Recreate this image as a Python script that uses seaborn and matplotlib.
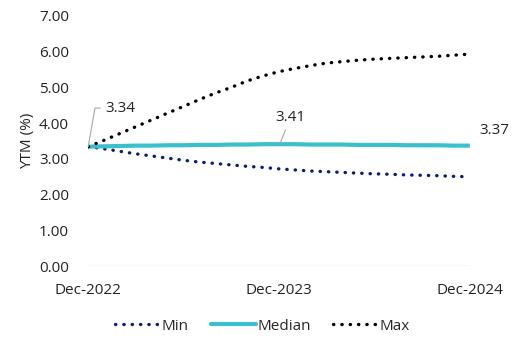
import matplotlib
matplotlib.use("Agg")
import matplotlib.pyplot as plt
import seaborn as sns
import pandas as pd
from matplotlib.lines import Line2D

months = list(range(25))
tick_positions = [0, 12, 24]
tick_labels = ["Dec-2022", "Dec-2023", "Dec-2024"]

min_vals = [3.34, 3.28, 3.21, 3.14, 3.08, 3.02, 2.96, 2.91, 2.87, 2.83, 2.79, 2.76,
            2.72, 2.69, 2.66, 2.64, 2.62, 2.60, 2.58, 2.57, 2.55, 2.54, 2.53, 2.51, 2.50]
median_vals = [3.34, 3.35, 3.36, 3.37, 3.37, 3.38, 3.38, 3.39, 3.39, 3.40, 3.40, 3.41,
               3.41, 3.41, 3.40, 3.40, 3.40, 3.39, 3.39, 3.39, 3.38, 3.38, 3.38, 3.37, 3.37]
max_vals = [3.34, 3.52, 3.71, 3.90, 4.09, 4.28, 4.47, 4.66, 4.84, 5.00, 5.18, 5.32,
            5.44, 5.53, 5.61, 5.68, 5.72, 5.76, 5.79, 5.81, 5.83, 5.85, 5.87, 5.90, 5.93]

series_names = ["Min", "Median", "Max"]
colors = {"Min": "#0B1F72", "Median": "#3BBFCD", "Max": "#000000"}

df = pd.concat([
    pd.DataFrame({"month": months, "ytm": min_vals, "series": "Min"}),
    pd.DataFrame({"month": months, "ytm": median_vals, "series": "Median"}),
    pd.DataFrame({"month": months, "ytm": max_vals, "series": "Max"}),
])

sns.set_theme(style="white")
plt.rcParams["font.family"] = ["Open Sans", "DejaVu Sans"]

FS = 11
fig = plt.figure(figsize=(5.25, 3.52), dpi=100)
ax = fig.add_axes([0.168, 0.244, 0.727, 0.711])

dot = (0, (0.1, 2.4))
sns.lineplot(data=df, x="month", y="ytm", hue="series", hue_order=series_names,
             palette=colors, ax=ax, legend=False, sort=False)
for line, name in zip(ax.get_lines(), series_names):
    if name == "Median":
        line.set_linewidth(3.0)
        line.set_solid_capstyle("butt")
    else:
        line.set_linewidth(2.4)
        line.set_linestyle(dot)
        line.set_dash_capstyle("round")

ax.set_xlim(0, 24)
ax.set_ylim(0, 7)
ax.set_yticks([0, 1, 2, 3, 4, 5, 6, 7])
ax.set_yticklabels([f"{v:.2f}" for v in range(8)])
ax.set_xticks(tick_positions)
ax.set_xticklabels(tick_labels)
ax.tick_params(axis="both", labelsize=FS, colors="#222222", length=0)
ax.tick_params(axis="y", pad=14)
ax.tick_params(axis="x", pad=12)
for s in ax.spines.values():
    s.set_visible(False)
ax.axhline(0, color="#D9D9D9", lw=1, zorder=0)
ax.set_xlabel("")
ax.set_ylabel("YTM (%)", fontsize=FS, color="#222222", labelpad=3)

# data labels
ax.annotate(f"{median_vals[0]:.2f}", xy=(0, median_vals[0]), xytext=(1.05, 4.42),
            fontsize=FS, color="#222222", va="center", ha="left",
            arrowprops=dict(arrowstyle="-", color="#A6A6A6", lw=0.8,
                            connectionstyle="angle,angleA=0,angleB=80,rad=0",
                            shrinkA=1, shrinkB=0))
ax.annotate(f"{median_vals[12]:.2f}", xy=(12.05, median_vals[12]), xytext=(12.7, 4.15),
            fontsize=FS, color="#222222", va="center", ha="center",
            arrowprops=dict(arrowstyle="-", color="#A6A6A6", lw=0.8,
                            shrinkA=1, shrinkB=0))
ax.text(24.6, 3.79, f"{median_vals[-1]:.2f}", fontsize=FS, color="#222222",
        va="center", ha="left", clip_on=False)

handles = [
    Line2D([], [], color=colors["Min"], lw=2.4, linestyle=dot, dash_capstyle="round"),
    Line2D([], [], color=colors["Median"], lw=3.0),
    Line2D([], [], color=colors["Max"], lw=2.4, linestyle=dot, dash_capstyle="round"),
]
fig.legend(handles, series_names, loc="center", bbox_to_anchor=(0.5, 0.073),
           ncol=3, frameon=False, fontsize=FS, handlelength=2.9,
           handletextpad=0.1, columnspacing=1.5)

fig.savefig("out.png", dpi=100)
